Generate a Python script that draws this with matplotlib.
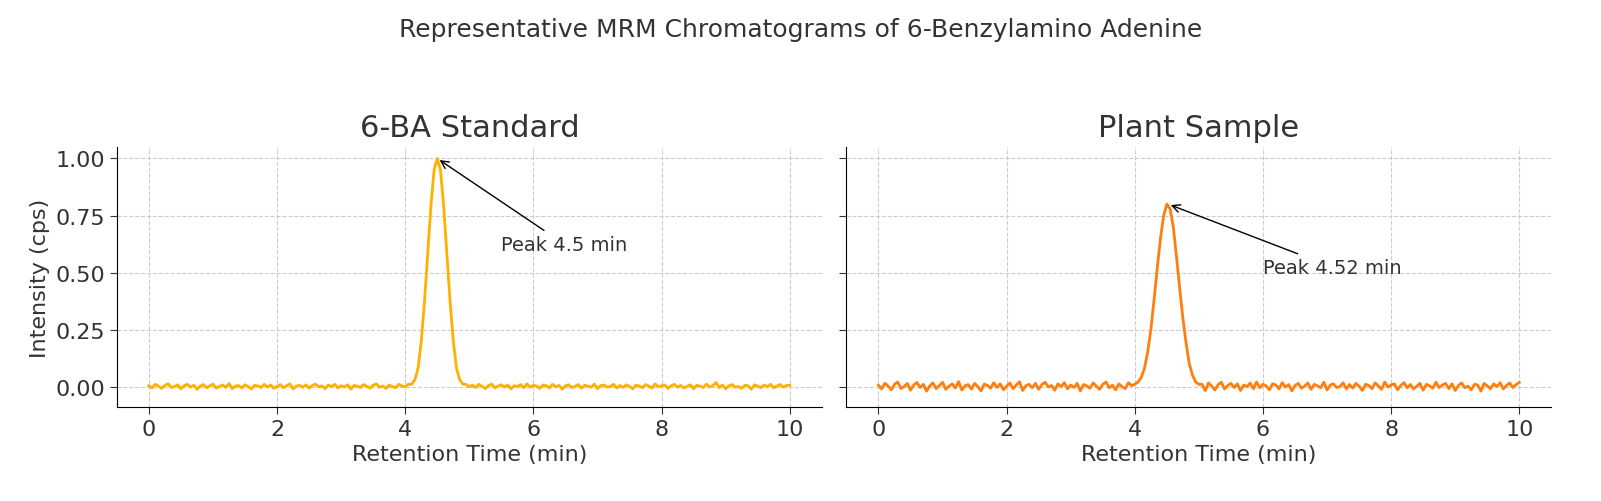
import numpy as np
import matplotlib
matplotlib.use("Agg")
import matplotlib.pyplot as plt

step = 0.05
times = [round(i * step, 2) for i in range(201)]

std_pre = [0.004,-0.006,0.010,0.002,-0.008,0.006,0.012,-0.004,0.000,0.008,
           -0.010,0.004,0.010,-0.002,0.006,-0.012,0.002,0.009,-0.005,0.003,
           0.011,-0.007,0.001,0.007,-0.003,0.013,-0.009,0.002,0.005,-0.006,
           0.008,0.000,-0.011,0.006,0.003,-0.004,0.010,-0.002,0.007,-0.008,
           0.001,0.009,-0.005,0.004,0.012,-0.010,0.002,0.006,-0.003,0.008,
           -0.007,0.005,0.011,-0.001,0.003,-0.009,0.007,0.000,0.010,-0.006,
           0.004,-0.002,0.008,-0.011,0.005,0.002,-0.004,0.009,0.001,-0.007,
           0.006,0.012,-0.003,0.003,-0.008,0.007,0.000,-0.005,0.010,0.002]
std_peak = [0.00,0.01,0.01,0.03,0.08,0.20,0.37,0.58,0.79,0.95,1.00,
            0.95,0.79,0.58,0.37,0.20,0.08,0.03,0.01,0.01,0.00]
std_post = [0.006,-0.004,0.010,0.001,-0.009,0.005,0.011,-0.006,0.003,0.008,
            -0.002,0.007,-0.010,0.004,0.000,0.009,-0.005,0.012,-0.003,0.006,
            0.002,-0.008,0.007,0.004,-0.006,0.010,-0.001,0.005,-0.011,0.003,
            0.008,-0.004,0.001,0.009,-0.007,0.006,0.002,-0.003,0.011,-0.009,
            0.004,0.007,-0.002,0.000,0.010,-0.006,0.005,-0.004,0.008,0.001,
            -0.010,0.006,0.003,-0.005,0.009,0.002,-0.007,0.012,-0.001,0.004,
            0.007,-0.008,0.003,0.010,-0.003,0.005,-0.006,0.001,0.008,-0.009,
            0.006,0.002,-0.004,0.011,-0.002,0.004,0.018,-0.005,0.007,-0.010,
            0.003,0.009,-0.003,0.001,-0.008,0.006,0.004,-0.012,0.008,0.002,
            -0.005,0.007,0.000,0.010,-0.006,0.003,0.009,-0.002,0.005,0.006]
std_vals = std_pre + std_peak + std_post

pl_pre = [0.006,-0.010,0.015,0.002,-0.014,0.010,0.020,-0.008,0.000,0.014,
          -0.016,0.007,0.018,-0.004,0.010,-0.020,0.003,0.016,-0.009,0.005,
          0.019,-0.012,0.002,0.012,-0.006,0.022,-0.015,0.004,0.009,-0.011,
          0.014,0.000,-0.019,0.011,0.005,-0.007,0.017,-0.004,0.012,-0.014,
          0.002,0.016,-0.009,0.007,0.021,-0.017,0.004,0.010,-0.005,0.014,
          -0.012,0.009,0.019,-0.002,0.005,-0.016,0.012,0.000,0.017,-0.010,
          0.007,-0.004,0.014,-0.019,0.009,0.003,-0.007,0.016,0.002,-0.012,
          0.010,0.020,-0.005,0.006,-0.014,0.012,0.000,-0.009,0.017,0.004]
pl_peak = [0.01,0.02,0.04,0.08,0.15,0.25,0.38,0.52,0.65,0.75,0.80,
           0.78,0.70,0.57,0.43,0.30,0.19,0.10,0.05,0.02,0.01]
pl_post = [0.010,-0.018,0.016,0.002,-0.015,0.009,0.019,-0.010,0.005,0.014,
           -0.004,0.012,-0.017,0.007,0.000,0.015,-0.009,0.020,-0.005,0.010,
           0.003,-0.014,0.012,0.007,-0.010,0.017,-0.002,0.009,-0.019,0.005,
           0.014,-0.007,0.002,0.016,-0.012,0.010,0.003,-0.005,0.019,-0.015,
           0.007,0.012,-0.004,0.000,0.017,-0.010,0.009,-0.007,0.014,0.002,
           -0.017,0.010,0.005,-0.009,0.016,0.003,-0.012,0.020,-0.002,0.007,
           0.012,-0.014,0.005,0.017,-0.005,0.009,-0.010,0.002,0.014,-0.016,
           0.010,0.003,-0.007,0.019,-0.004,0.007,0.014,-0.009,0.012,-0.017,
           0.005,0.016,-0.005,0.002,-0.014,0.010,0.007,-0.020,0.014,0.003,
           -0.009,0.012,0.000,0.017,-0.010,0.005,0.016,-0.004,0.009,0.018]
pl_vals = pl_pre + pl_peak + pl_post

titles = ["6-BA Standard", "Plant Sample"]
colors = ["#FFB000", "#FF7F0E"]
peak_times = [4.5, 4.52]
peak_heights = [1.0, 0.8]
label_pos = [(5.5, 0.6), (6.0, 0.5)]
peak_labels = ["Peak 4.5 min", "Peak 4.52 min"]

fig, axes = plt.subplots(1, 2, figsize=(16.01, 5.02), dpi=100, sharey=True)
fig.subplots_adjust(left=0.073, right=0.969, top=0.705, bottom=0.187, wspace=0.035)
fig.suptitle("Representative MRM Chromatograms of 6-Benzylamino Adenine",
             fontsize=18, color="#333333", y=0.965)
for ax, vals, t, c, pt, ph, lp, lab in zip(axes, [std_vals, pl_vals], titles, colors,
                                            peak_times, peak_heights, label_pos, peak_labels):
    ax.plot(times, vals, color=c, lw=2)
    ax.set_title(t, fontsize=22, color="#333333", pad=8)
    ax.set_xlabel("Retention Time (min)", fontsize=16, color="#333333")
    ax.grid(True, ls="--", color="#cccccc", lw=0.8)
    ax.set_axisbelow(True)
    for s in ["top", "right"]:
        ax.spines[s].set_visible(False)
    ax.tick_params(labelsize=16, colors="#333333", direction="out", length=5)
    ax.set_xticks([0, 2, 4, 6, 8, 10])
    ax.set_yticks([0, 0.25, 0.5, 0.75, 1.0])
    ax.set_xlim(-0.5, 10.5)
    ax.set_ylim(-0.09, 1.05)
    ax.annotate(lab, xy=(pt, ph), xytext=lp, fontsize=14, color="#333333",
                arrowprops=dict(arrowstyle="->", color="black", lw=1))
axes[0].set_ylabel("Intensity (cps)", fontsize=16, color="#333333")
axes[1].tick_params(labelleft=False)
fig.savefig("out.png", dpi=100)
